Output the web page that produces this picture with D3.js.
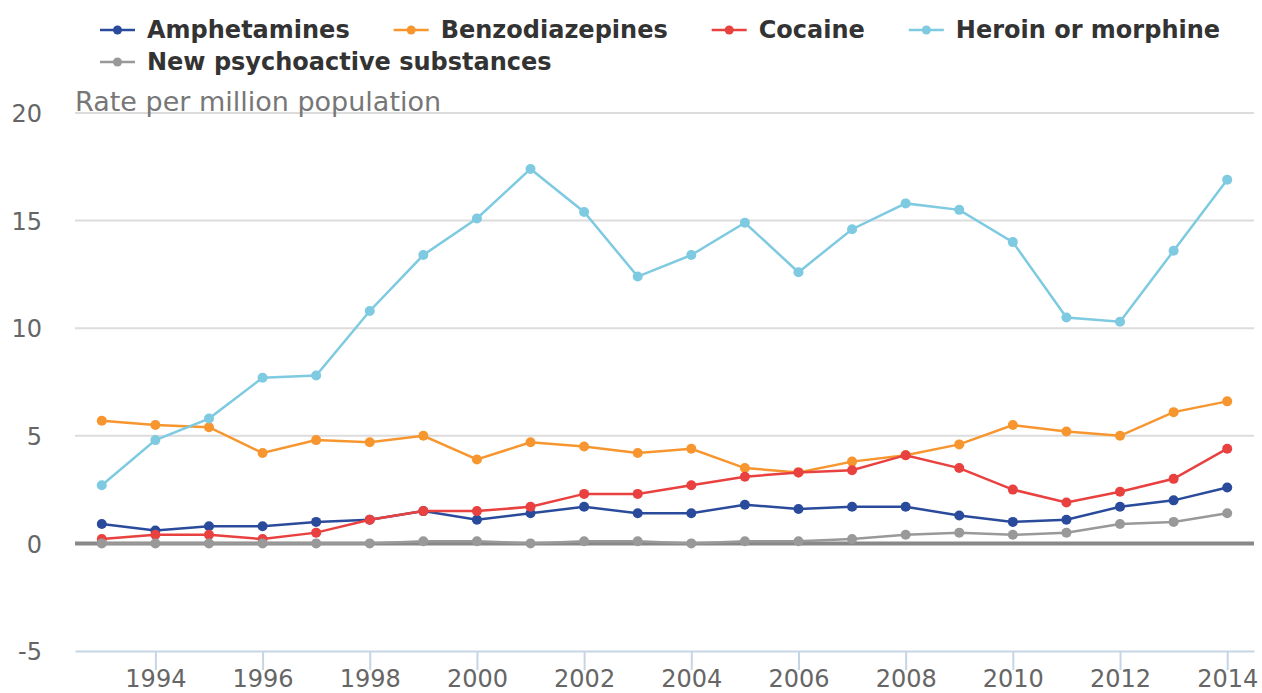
<!DOCTYPE html>
<html>
<head>
<meta charset="utf-8">
<script src="https://cdn.jsdelivr.net/npm/d3@7"></script>
<style>
  body { margin: 0; background: #fff; }
  svg { display: block; font-family: "DejaVu Sans", sans-serif; }
</style>
</head>
<body>
<div id="chart"></div>
<script>
// data
var years = [1993, 1994, 1995, 1996, 1997, 1998, 1999, 2000, 2001, 2002, 2003,
             2004, 2005, 2006, 2007, 2008, 2009, 2010, 2011, 2012, 2013, 2014];
var seriesNames = ["Amphetamines", "Benzodiazepines", "Cocaine", "Heroin or morphine", "New psychoactive substances"];
var seriesColors = ["#2a4b9b", "#f7962f", "#e8413f", "#7ecae1", "#999999"];

var amphetamines = [0.9, 0.6, 0.8, 0.8, 1.0, 1.1, 1.5, 1.1, 1.4, 1.7, 1.4,
                    1.4, 1.8, 1.6, 1.7, 1.7, 1.3, 1.0, 1.1, 1.7, 2.0, 2.6];
var benzodiazepines = [5.7, 5.5, 5.4, 4.2, 4.8, 4.7, 5.0, 3.9, 4.7, 4.5, 4.2,
                       4.4, 3.5, 3.3, 3.8, 4.1, 4.6, 5.5, 5.2, 5.0, 6.1, 6.6];
var cocaine = [0.2, 0.4, 0.4, 0.2, 0.5, 1.1, 1.5, 1.5, 1.7, 2.3, 2.3,
               2.7, 3.1, 3.3, 3.4, 4.1, 3.5, 2.5, 1.9, 2.4, 3.0, 4.4];
var heroin = [2.7, 4.8, 5.8, 7.7, 7.8, 10.8, 13.4, 15.1, 17.4, 15.4, 12.4,
              13.4, 14.9, 12.6, 14.6, 15.8, 15.5, 14.0, 10.5, 10.3, 13.6, 16.9];
var nps = [0, 0, 0, 0, 0, 0, 0.1, 0.1, 0, 0.1, 0.1,
           0, 0.1, 0.1, 0.2, 0.4, 0.5, 0.4, 0.5, 0.9, 1.0, 1.4];

var yTicks = [-5, 0, 5, 10, 15, 20];
var xTicks = [1994, 1996, 1998, 2000, 2002, 2004, 2006, 2008, 2010, 2012, 2014];
var yTitle = "Rate per million population";

var allValues = [amphetamines, benzodiazepines, cocaine, heroin, nps];
var series = seriesNames.map(function(name, i) {
  return { name: name, color: seriesColors[i], values: allValues[i] };
});

var width = 1262, height = 693;
var margin = { left: 75, right: 8, top: 113, bottom: 42 };

var svg = d3.select("#chart").append("svg")
    .attr("width", width)
    .attr("height", height);

var x = d3.scalePoint()
    .domain(years)
    .range([margin.left, width - margin.right])
    .padding(0.5);

var y = d3.scaleLinear()
    .domain([-5, 20])
    .range([height - margin.bottom, margin.top]);

// gridlines
svg.append("g").attr("class", "grid")
  .selectAll("line")
  .data(yTicks.filter(function(d) { return d > 0; }))
  .enter().append("line")
    .attr("x1", margin.left)
    .attr("x2", width - margin.right)
    .attr("y1", function(d) { return y(d); })
    .attr("y2", function(d) { return y(d); })
    .attr("stroke", "#dcdcdc")
    .attr("stroke-width", 2);

// y tick labels
svg.append("g").attr("class", "y-labels")
  .selectAll("text")
  .data(yTicks)
  .enter().append("text")
    .attr("x", 42)
    .attr("y", function(d) { return y(d); })
    .attr("dy", "0.38em")
    .attr("text-anchor", "end")
    .attr("font-size", 24)
    .attr("fill", "#666")
    .text(function(d) { return d; });

svg.append("text")
    .attr("x", margin.left)
    .attr("y", margin.top - 2)
    .attr("font-size", 27)
    .attr("fill", "#777")
    .text(yTitle);

// x axis
var xAxis = d3.axisBottom(x)
    .tickValues(xTicks)
    .tickSize(19)
    .tickPadding(0)
    .tickSizeOuter(0);

var gx = svg.append("g")
    .attr("transform", "translate(0," + y(-5) + ")")
    .call(xAxis);
gx.select(".domain")
    .attr("stroke", "#c6d5e6")
    .attr("stroke-width", 2);
gx.selectAll(".tick line")
    .attr("stroke", "#c6d5e6")
    .attr("stroke-width", 2);
gx.selectAll(".tick text")
    .attr("font-size", 24)
    .attr("font-family", "DejaVu Sans, sans-serif")
    .attr("fill", "#666");

// zero line
svg.append("line")
    .attr("x1", margin.left)
    .attr("x2", width - margin.right)
    .attr("y1", y(0))
    .attr("y2", y(0))
    .attr("stroke", "#888")
    .attr("stroke-width", 4);

var line = d3.line()
    .x(function(d, i) { return x(years[i]); })
    .y(function(d) { return y(d); });

var gSeries = svg.append("g").attr("class", "series")
  .selectAll("g")
  .data(series)
  .enter().append("g");

gSeries.append("path")
    .attr("d", function(s) { return line(s.values); })
    .attr("fill", "none")
    .attr("stroke", function(s) { return s.color; })
    .attr("stroke-width", 2.5);

gSeries.selectAll("circle")
  .data(function(s) { return s.values.map(function(v, i) { return { v: v, year: years[i], color: s.color }; }); })
  .enter().append("circle")
    .attr("cx", function(d) { return x(d.year); })
    .attr("cy", function(d) { return y(d.v); })
    .attr("r", 5)
    .attr("fill", function(d) { return d.color; });

// legend, flowing left to right and wrapping
var legend = svg.append("g").attr("class", "legend");
var lx = 100, ly = 30, rowH = 32, maxX = width - margin.right;
series.forEach(function(s) {
  var item = legend.append("g");
  var label = item.append("text")
      .attr("x", 47)
      .attr("y", 0)
      .attr("dy", "0.35em")
      .attr("font-size", 24)
      .attr("font-weight", "bold")
      .attr("fill", "#333")
      .text(s.name);
  var w = 47 + label.node().getComputedTextLength();
  if (lx + w > maxX) { lx = 100; ly += rowH; }
  item.append("line")
      .attr("x1", 0).attr("x2", 35)
      .attr("y1", 0).attr("y2", 0)
      .attr("stroke", s.color)
      .attr("stroke-width", 2.5);
  item.append("circle")
      .attr("cx", 17.5).attr("cy", 0)
      .attr("r", 4.5)
      .attr("fill", s.color);
  item.attr("transform", "translate(" + lx + "," + ly + ")");
  lx += w + 44;
});
</script>
</body>
</html>
